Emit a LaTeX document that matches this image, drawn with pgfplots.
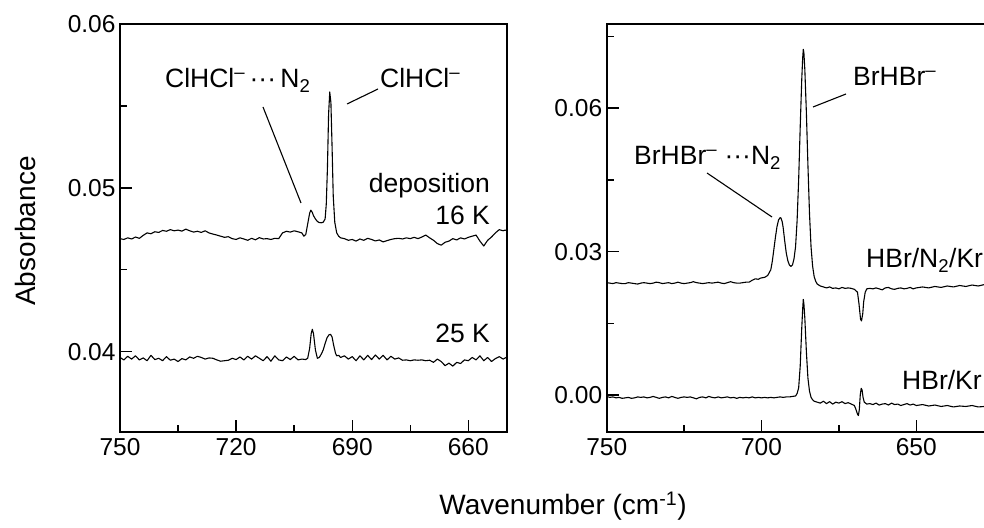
\documentclass[border=0pt]{standalone}
\usepackage{fontspec}
\setmainfont{Liberation Sans}
\usepackage{pgfplots}
\pgfplotsset{compat=1.18}
\begin{document}
\begin{tikzpicture}[x=1pt,y=1pt]
\path[use as bounding box] (0,0) rectangle (984,527);
\clip (0,0) rectangle (984,527);
\pgfplotsset{
  myax/.style={
    scale only axis, width=387pt, height=408pt,
    x dir=reverse, tick align=inside, tick pos=left,
    axis line style={line width=1.6pt},
    major tick length=12pt, minor tick length=7pt,
    every tick/.style={line width=1.3pt, black},
    tick label style={font=\fontsize{24.5}{28}\selectfont},
    xticklabel style={yshift=-3pt},
    yticklabel style={xshift=-1pt},
    /pgf/number format/.cd, fixed, fixed zerofill, precision=2, assume math mode=true,
  },
  curve/.style={black, line width=1.1pt, line join=round},
}
% ---------- left panel ----------
\begin{axis}[myax, at={(120pt,95pt)}, anchor=south west,
  xmin=650, xmax=750, ymin=0.0351, ymax=0.06,
  xtick={660,690,720,750}, minor xtick={675,705,735},
  ytick={0.04,0.05,0.06}, minor ytick={0.045,0.055},
  scaled y ticks=false,
  xticklabel style={/pgf/number format/precision=0, /pgf/number format/fixed zerofill=false}]
\addplot[curve] table {
750 .04690
749 .04685
748 .04695
747 .04688
746 .04700
745 .04692
744 .04710
743 .04725
742 .04720
741 .04732
740 .04728
739 .04740
738 .04735
737 .04745
736 .04738
735 .04742
734 .04736
733 .04748
732 .04738
731 .04730
730 .04735
729 .04728
728 .04738
727 .04725
726 .04718
725 .04712
724 .04705
723 .04698
722 .04702
721 .04690
720 .04685
719 .04695
718 .04688
717 .04680
716 .04692
715 .04683
714 .04696
713 .04688
712 .04690
711 .04685
710 .04692
709 .04690
708 .04725
707 .04735
706 .04730
705 .04738
704 .04732
703 .04725
702.5 .04705
702 .04715
701.5 .04780
701 .04845
700.7 .04864
700.3 .04850
700 .04830
699.5 .04810
699 .04795
698.5 .04788
698 .04787
697.5 .04790
697 .04810
696.7 .04900
696.4 .05120
696.1 .05450
695.8 .05585
695.5 .05520
695.2 .05250
694.9 .04950
694.5 .04790
694 .04725
693.5 .04705
693 .04695
692 .04690
691 .04680
690 .04685
689 .04675
688 .04688
687 .04680
686 .04692
685 .04685
684 .04676
683 .04682
682 .04670
681 .04678
680 .04685
679 .04690
678 .04692
677 .04688
676 .04695
675 .04690
674 .04698
673 .04690
672 .04700
671 .04712
670 .04695
669 .04680
668 .04660
667 .04650
666 .04668
665 .04675
664 .04690
663 .04682
662 .04695
661 .04688
660 .04698
659 .04705
658 .04712
657 .04675
656 .04645
655 .04680
654 .04700
653 .04725
652 .04745
651 .04738
650.5 .04742
650 .04740
};
\addplot[curve] table {
750 .03965
749 .03950
748 .03972
747 .03955
746 .03975
745 .03950
744 .03962
743 .03945
742 .03978
741 .03952
740 .03960
739 .03945
738 .03970
737 .03948
736 .03955
735 .03940
734 .03958
733 .03950
732 .03968
731 .03960
730 .03972
729 .03965
728 .03955
727 .03962
726 .03960
725 .03950
724 .03942
723 .03945
722 .03948
721 .03960
720 .03952
719 .03968
718 .03950
717 .03972
716 .03955
715 .03975
714 .03960
713 .03945
712 .03970
711 .03942
710 .03975
709 .03950
708 .03945
707 .03968
706 .03952
705 .03972
704 .03950
703 .03955
702 .03952
701.5 .03960
701 .04020
700.6 .04110
700.3 .04137
700 .04110
699.5 .04010
699 .03960
698.5 .03965
698 .03985
697.5 .04010
697 .04050
696.5 .04085
696 .04103
695.6 .04106
695.2 .04090
694.8 .04040
694.3 .03990
694 .03975
693.5 .03978
693 .03965
692 .03975
691 .03955
690 .03970
689 .03945
688 .03975
687 .03950
686 .03978
685 .03952
684 .03980
683 .03955
682 .03978
681 .03950
680 .03972
679 .03955
678 .03962
677 .03948
676 .03950
675 .03945
674 .03950
673 .03948
672 .03950
671 .03945
670 .03948
669 .03935
668 .03955
667 .03940
666 .03915
665 .03930
664 .03912
663 .03935
662 .03928
661 .03950
660 .03945
659 .03965
658 .03950
657 .03975
656 .03945
655 .03965
654 .03940
653 .03958
652 .03970
651 .03955
650 .03968
};
\end{axis}
% ---------- right panel ----------
\begin{axis}[myax, at={(606.7pt,95pt)}, anchor=south west,
  xmin=625, xmax=750, ymin=-0.00774, ymax=0.0776,
  xtick={650,700,750}, minor xtick={625,675,725},
  ytick={0,0.03,0.06}, minor ytick={0.015,0.045,0.075},
  scaled y ticks=false,
  xticklabel style={/pgf/number format/precision=0, /pgf/number format/fixed zerofill=false}]
\addplot[curve] table {
750 0.0235
749 0.0234
748 0.0233
747 0.0235
746 0.0234
745 0.0233
744 0.0233
743 0.0235
742 0.0234
741 0.0233
740 0.0232
739 0.0234
738 0.0235
737 0.0234
736 0.0233
735 0.0234
734 0.0236
733 0.0235
732 0.0233
731 0.0234
730 0.0235
729 0.0233
728 0.0234
727 0.0236
726 0.0234
725 0.0233
724 0.0234
723 0.0235
722 0.0237
721 0.0235
720 0.0234
719 0.0233
718 0.0234
717 0.0235
716 0.0234
715 0.0235
714 0.0236
713 0.0234
712 0.0233
711 0.0235
710 0.0237
709 0.0235
708 0.0234
707 0.0234
706 0.0235
705 0.0236
704 0.0236
703 0.0240
702 0.0243
701 0.0242
700.5 0.0244
700 0.0245
699 0.0246
698 0.0250
697 0.0262
696.5 0.0280
696 0.0305
695.5 0.0330
695 0.0352
694.5 0.0366
694 0.0371
693.7 0.0370
693.3 0.0362
693 0.0350
692.5 0.0322
692 0.0297
691.5 0.0281
691 0.0272
690.5 0.0269
690 0.0272
689.5 0.0285
689 0.0310
688.5 0.0365
688 0.0450
687.5 0.0560
687 0.0660
686.7 0.0705
686.5 0.0723
686.3 0.0715
686 0.0680
685.5 0.0590
685 0.0480
684.5 0.0380
684 0.0310
683.5 0.0270
683 0.0248
682.5 0.0238
682 0.0232
681 0.0228
680 0.0226
679 0.0224
678 0.0226
677 0.0223
676 0.0224
675 0.0222
674 0.0225
673 0.0223
672 0.0224
671 0.0223
670 0.0221
669 0.0215
668.5 0.0190
668 0.0158
667.7 0.0155
667.3 0.0170
667 0.0195
666.5 0.0215
666 0.0222
665 0.0223
664 0.0222
663 0.0224
662 0.0222
661 0.0220
660 0.0224
659 0.0225
658 0.0222
657 0.0221
656 0.0223
655 0.0224
654 0.0222
653 0.0223
652 0.0225
651 0.0222
650 0.0224
648 0.0226
646 0.0224
644 0.0227
642 0.0225
640 0.0228
638 0.0226
636 0.0229
634 0.0227
632 0.0230
630 0.0228
628 0.0231
626 0.0229
625 0.0230
};
\addplot[curve] table {
750 -0.0003
749 -0.0005
748 -0.0004
747 -0.0006
746 -0.0005
745 -0.0007
744 -0.0006
743 -0.0005
742 -0.0007
741 -0.0006
740 -0.0004
739 -0.0005
738 -0.0004
737 -0.0006
736 -0.0005
735 -0.0003
734 -0.0005
733 -0.0007
732 -0.0005
731 -0.0004
730 -0.0006
729 -0.0003
728 -0.0005
727 -0.0007
726 -0.0005
725 -0.0004
724 -0.0005
723 -0.0004
722 -0.0006
721 -0.0008
720 -0.0005
719 -0.0004
718 -0.0006
717 -0.0003
716 -0.0005
715 -0.0006
714 -0.0004
713 -0.0006
712 -0.0005
711 -0.0004
710 -0.0006
709 -0.0005
708 -0.0007
707 -0.0005
706 -0.0006
705 -0.0005
704 -0.0006
703 -0.0004
702 -0.0006
701 -0.0005
700 -0.0006
699 -0.0005
698 -0.0006
697 -0.0005
696 -0.0006
695 -0.0005
694 -0.0004
693 -0.0005
692 -0.0004
691 -0.0004
690 -0.0003
689 -0.0002
688.5 0.0003
688 0.0015
687.5 0.0060
687 0.0140
686.7 0.0180
686.5 0.0200
686.3 0.0190
686 0.0160
685.5 0.0090
685 0.0035
684.5 0.0008
684 -0.0005
683.5 -0.0010
683 -0.0013
682 -0.0015
681 -0.0017
680 -0.0013
679 -0.0018
678 -0.0014
677 -0.0019
676 -0.0015
675 -0.0017
674 -0.0014
673 -0.0018
672 -0.0016
671 -0.0019
670 -0.0022
669.5 -0.0030
669 -0.0040
668.7 -0.0043
668.4 -0.0030
668.1 0.0000
667.8 0.0014
667.5 0.0010
667.2 -0.0005
666.8 -0.0015
666 -0.0019
665 -0.0018
664 -0.0020
663 -0.0017
662 -0.0021
661 -0.0019
660 -0.0018
659 -0.0021
658 -0.0017
657 -0.0020
656 -0.0019
655 -0.0022
654 -0.0020
653 -0.0018
652 -0.0021
651 -0.0019
650 -0.0022
648 -0.0020
646 -0.0023
644 -0.0021
642 -0.0024
640 -0.0022
638 -0.0025
636 -0.0023
634 -0.0024
632 -0.0022
630 -0.0025
628 -0.0024
626 -0.0023
625 -0.0024
};
\end{axis}
% ---------- annotations ----------
\begin{scope}[every node/.style={font=\fontsize{26.5}{30}\selectfont, inner sep=0pt}]
\node[anchor=base west] at (165,439) {ClHCl\textsuperscript{–}\,···\,N\textsubscript{2}};
\node[anchor=base west] at (380,439) {ClHCl\textsuperscript{–}};
\draw[line width=1.1pt] (263,420) -- (301,324);
\draw[line width=1.1pt] (347,423) -- (378,438);
\node[anchor=base east] at (490,334) {deposition};
\node[anchor=base east] at (490,302) {16 K};
\node[anchor=base east] at (490,184) {25 K};
\node[anchor=base west] at (853,441) {BrHBr\textsuperscript{–}};
\draw[line width=1.1pt] (813,420) -- (846,433);
\node[anchor=base west] at (634,362) {BrHBr\textsuperscript{–} ···N\textsubscript{2}};
\draw[line width=1.1pt] (707,354) -- (772,310);
\node[anchor=base west] at (866,259) {HBr/N\textsubscript{2}/Kr};
\node[anchor=base west] at (902,137) {HBr/Kr};
\node[rotate=90, font=\fontsize{28}{32}\selectfont] at (25,296) {Absorbance};
\node[font=\fontsize{28}{32}\selectfont] at (563,21) {Wavenumber (cm\textsuperscript{-1})};
\end{scope}
\end{tikzpicture}
\end{document}
